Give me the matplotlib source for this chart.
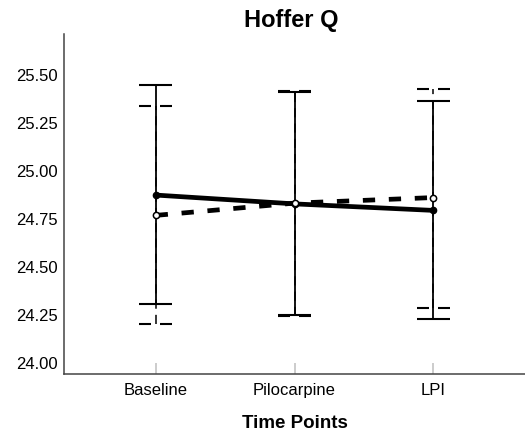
import matplotlib
matplotlib.use("Agg")
import matplotlib.pyplot as plt

plt.rcParams['font.family'] = ['Liberation Sans', 'DejaVu Sans']

# data
time_points = ['Baseline', 'Pilocarpine', 'LPI']

# solid series (mean with CI)
solid_mean = [24.868, 24.822, 24.788]
solid_low = [24.300, 24.245, 24.220]
solid_high = [25.443, 25.405, 25.357]

# dashed series (mean with CI)
dash_mean = [24.762, 24.826, 24.855]
dash_low = [24.196, 24.236, 24.280]
dash_high = [25.334, 25.412, 25.420]

y_ticks = [24.00, 24.25, 24.50, 24.75, 25.00, 25.25, 25.50]

fig = plt.figure(figsize=(5.25, 4.35), dpi=100)
ax = fig.add_axes([0.122, 0.138, 0.878, 0.782])

x = list(range(len(time_points)))
cap = 0.118

# error bars
ax.vlines(x, solid_low, solid_high, colors='black', linewidth=1.3, zorder=2)
ax.hlines(solid_low, [i - cap for i in x], [i + cap for i in x],
          colors='black', linewidth=1.5, zorder=2)
ax.hlines(solid_high, [i - cap for i in x], [i + cap for i in x],
          colors='black', linewidth=1.5, zorder=2)

dash_cap = (0, (5.76, 4.32))
ax.vlines(x, dash_low, dash_high, colors='black', linewidth=1.1,
          linestyles=[(0, (6, 4))], zorder=1.5)
ax.hlines(dash_low, [i - cap for i in x], [i + cap for i in x],
          colors='black', linewidth=1.5, linestyles=[dash_cap], zorder=2)
ax.hlines(dash_high, [i - cap for i in x], [i + cap for i in x],
          colors='black', linewidth=1.5, linestyles=[dash_cap], zorder=2)

# mean lines
ax.plot(x, solid_mean, color='black', linewidth=3.4, solid_capstyle='butt', zorder=3)
ax.plot(x, dash_mean, color='black', linewidth=3.4, linestyle=(0, (2.6, 2.9)), zorder=3)
ax.plot(x, solid_mean, 'o', color='black', markersize=4.5, zorder=4)
ax.plot(x, dash_mean, 'o', markerfacecolor='white', markeredgecolor='black',
        markeredgewidth=1.1, markersize=4.5, zorder=4)

ax.set_xlim(-0.66, 2.66)
ax.set_ylim(23.935, 25.709)
ax.set_xticks(x)
ax.set_xticklabels(time_points, fontsize=12)
ax.set_yticks(y_ticks)
ax.set_yticklabels([f'{v:.2f}' for v in y_ticks], fontsize=12)
ax.tick_params(axis='y', length=0, pad=4.5)
ax.tick_params(axis='x', direction='in', length=8, width=1.2, color='#c4c4c4', pad=6)

for side in ['top', 'right']:
    ax.spines[side].set_visible(False)
for side in ['left', 'bottom']:
    ax.spines[side].set_color('#444444')
    ax.spines[side].set_linewidth(1.1)

ax.set_xlabel('Time Points', fontsize=13.5, fontweight='bold', labelpad=12)
fig.text(0.555, 0.952, 'Hoffer Q', fontsize=17, fontweight='bold', ha='center', va='center')

fig.savefig('out.png', dpi=100)
